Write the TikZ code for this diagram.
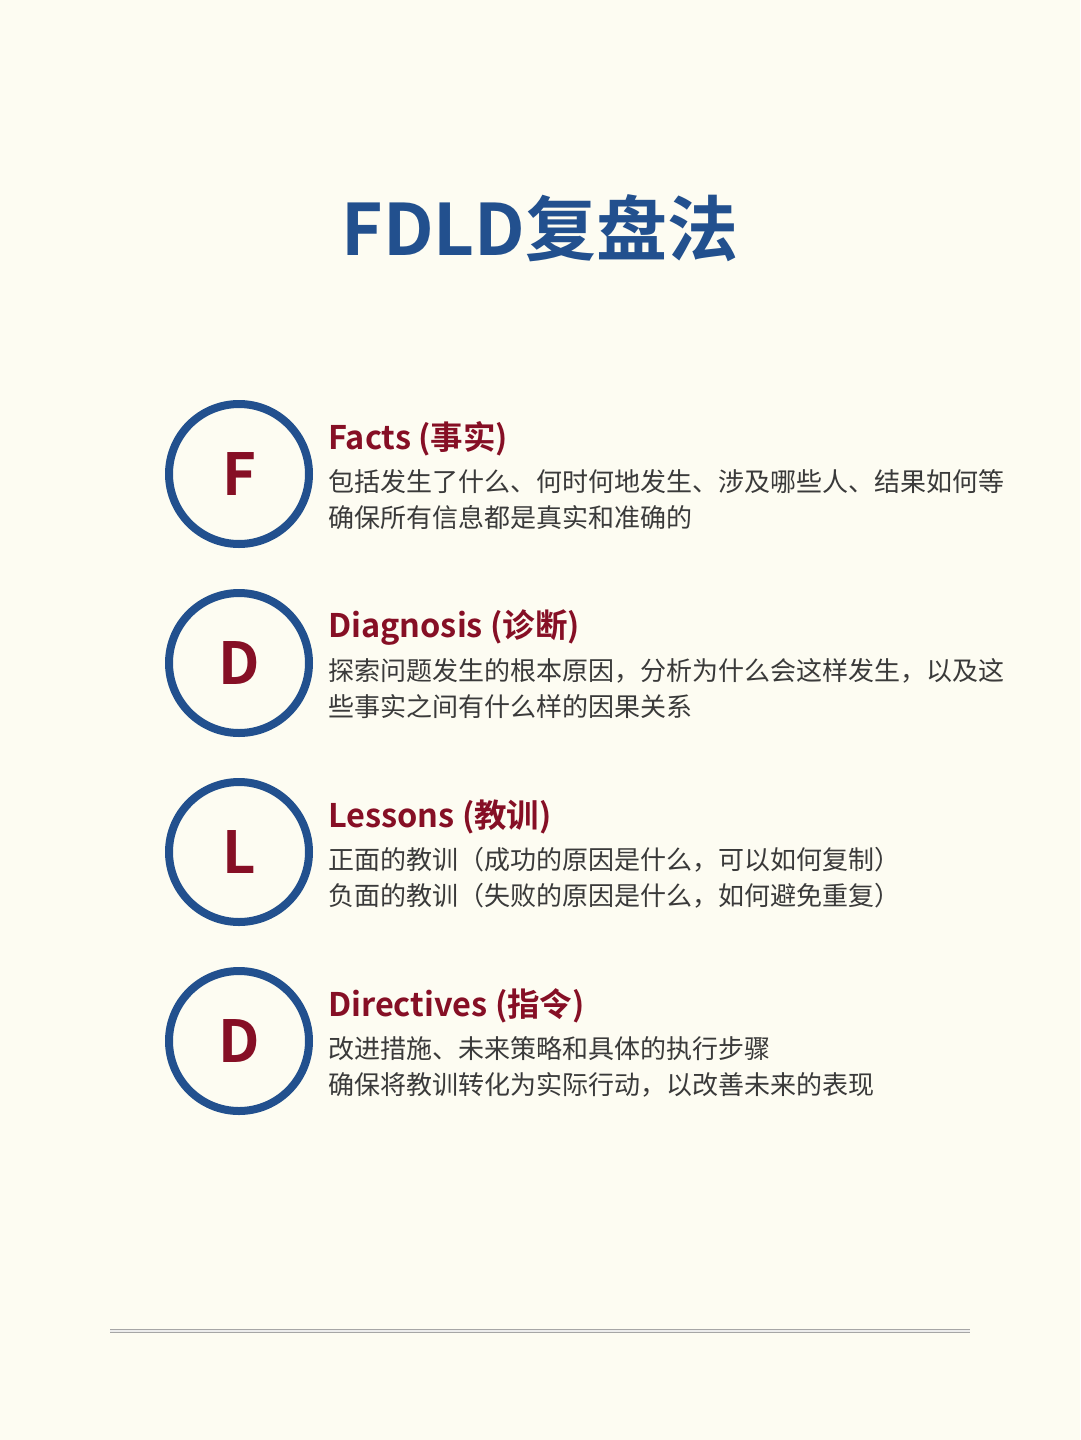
\documentclass[tikz,border=0pt]{standalone}
\usepackage{fontspec}
\setmainfont{Noto Sans CJK SC}[BoldFont={Noto Sans CJK SC Bold}]
\definecolor{bg}{HTML}{FDFCF2}
\definecolor{blu}{HTML}{22508E}
\definecolor{red}{HTML}{860F25}
\definecolor{txt}{HTML}{3A3A3A}
\begin{document}
\begin{tikzpicture}[x=1pt,y=-1pt,
  ring/.style={circle,draw=blu,line width=8pt,minimum size=140pt,inner sep=0pt,text=red,font=\bfseries\fontsize{58}{58}\selectfont},
  head/.style={anchor=west,inner sep=0pt,text=red,font=\bfseries\fontsize{32.5}{32.5}\selectfont},
  body/.style={anchor=west,inner sep=0pt,text=txt,font=\fontsize{26}{26}\selectfont}]
\fill[bg] (0,0) rectangle (1080,1440);
\useasboundingbox (0,0) rectangle (1080,1440);
\node[text=blu,font=\bfseries\fontsize{71}{71}\selectfont] (title) at (540,228) {FDLD复盘法};
\foreach \n/\L/\y/\H/\A/\B in {
 f/F/474/Facts (事实)/包括发生了什么、何时何地发生、涉及哪些人、结果如何等/确保所有信息都是真实和准确的,
 d/D/663/Diagnosis (诊断)/探索问题发生的根本原因，分析为什么会这样发生，以及这/些事实之间有什么样的因果关系,
 l/L/852/Lessons (教训)/正面的教训（成功的原因是什么，可以如何复制）/负面的教训（失败的原因是什么，如何避免重复）,
 e/D/1041/Directives (指令)/改进措施、未来策略和具体的执行步骤/确保将教训转化为实际行动，以改善未来的表现}{
  \node[ring] (c\n) at (239,\y) {\L};
  \node[head] (h\n) at (328,\y-35) {\H};
  \node[body] (a\n) at (328,\y+8) {\A};
  \node[body] (b\n) at (328,\y+44) {\B};
}
\coordinate (l1) at (110,1331);
\coordinate (l2) at (970,1331);
\draw[line width=3.5pt,color=gray!70] (l1) -- (l2);
\draw[line width=1.2pt,color=gray!15] (l1) -- (l2);
\end{tikzpicture}
\end{document}
